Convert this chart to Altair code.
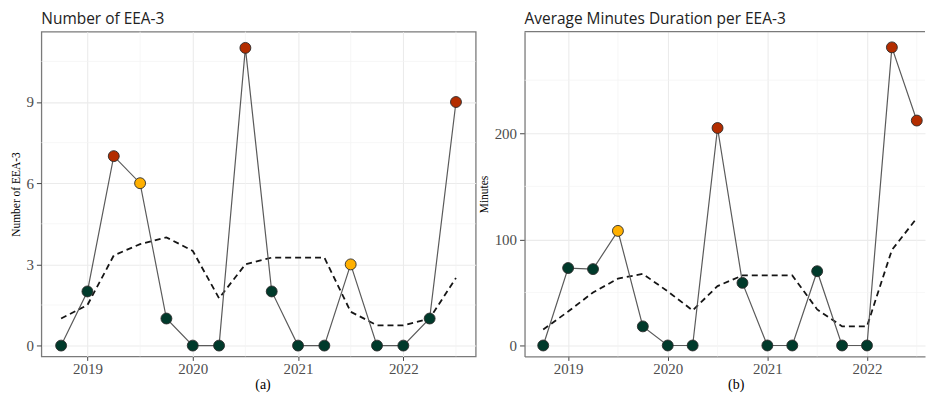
import altair as alt
import pandas as pd

# quarterly time points (decimal years)
quarters = [2018.75, 2019.0, 2019.25, 2019.5, 2019.75, 2020.0, 2020.25, 2020.5,
            2020.75, 2021.0, 2021.25, 2021.5, 2021.75, 2022.0, 2022.25, 2022.5]

# panel (a): number of EEA-3
count_values = [0, 2, 7, 6, 1, 0, 0, 11, 2, 0, 0, 3, 0, 0, 1, 9]
count_level = ["low", "low", "high", "mid", "low", "low", "low", "high",
               "low", "low", "low", "mid", "low", "low", "low", "high"]
count_avg = [1.0, 1.5, 3.33, 3.75, 4.0, 3.5, 1.75, 3.0,
             3.25, 3.25, 3.25, 1.25, 0.75, 0.75, 1.0, 2.5]

# panel (b): average minutes duration
minutes_values = [0, 73, 72, 108, 18, 0, 0, 205, 59, 0, 0, 70, 0, 0, 281, 212]
minutes_level = ["low", "low", "low", "mid", "low", "low", "low", "high",
                 "low", "low", "low", "low", "low", "low", "high", "high"]
minutes_avg = [15, 32, 50, 63, 67.5, 51, 33, 56, 66, 66, 66, 34, 18, 18, 90, 120]

year_ticks = [2019, 2020, 2021, 2022]
year_minor = [2019.5, 2020.5, 2021.5, 2022.5]

count_ticks = [0, 3, 6, 9]
count_minor = [1.5, 4.5, 7.5, 10.5]
minutes_ticks = [0, 100, 200]
minutes_minor = [50, 150, 250]

level_domain = ["low", "mid", "high"]
level_colors = ["#003a2b", "#ffb000", "#b32d00"]

SERIF = "Liberation Serif"
SANS = "Open Sans"
BORDER = "#7a7a7a"


def panel(values, levels, avg, title, ytitle, caption, xdom, ydom, yticks, yminor,
          width, height, caption_x, border_view):
    df = pd.DataFrame({"t": quarters, "v": values, "lvl": levels, "ma": avg})
    xaxis = alt.Axis(values=year_ticks, format="d", title=caption, titleFont=SERIF,
                     titleFontSize=14, titleColor="#000", titleFontWeight="normal",
                     titlePadding=1.5, titleX=caption_x, titleAnchor="start", titleAlign="center",
                     labelFont=SERIF, labelFontSize=15, labelColor="#4d4d4d",
                     labelPadding=1, tickSize=4, tickColor="#444", grid=True,
                     gridColor="#ebebeb", gridWidth=1.1,
                     domain=not border_view, domainColor=BORDER, domainWidth=1.3)
    yaxis = alt.Axis(values=yticks, title=ytitle, titleFont=SERIF, titleFontSize=11.5,
                     titleColor="#000", titleFontWeight="normal", titlePadding=4.5,
                     labelFont=SERIF, labelFontSize=15, labelColor="#4d4d4d",
                     labelPadding=3, tickSize=5, tickColor="#444", grid=True,
                     gridColor="#ebebeb", gridWidth=1.1,
                     domain=not border_view, domainColor=BORDER, domainWidth=1.3)
    xs = alt.Scale(domain=xdom, nice=False, zero=False)
    ys = alt.Scale(domain=ydom, nice=False, zero=False)

    gx = alt.Chart(pd.DataFrame({"g": year_minor})).mark_rule(
        color="#f4f4f4", strokeWidth=0.7).encode(x=alt.X("g:Q", scale=xs, axis=xaxis))
    gy = alt.Chart(pd.DataFrame({"g": yminor})).mark_rule(
        color="#f4f4f4", strokeWidth=0.7).encode(y=alt.Y("g:Q", scale=ys, axis=yaxis))

    base = alt.Chart(df)
    ma = base.mark_line(color="#151515", strokeWidth=1.8, strokeDash=[6, 4]).encode(
        x=alt.X("t:Q", scale=xs, axis=xaxis),
        y=alt.Y("ma:Q", scale=ys, axis=yaxis))
    line = base.mark_line(color="#5a5a5a", strokeWidth=1.2).encode(
        x=alt.X("t:Q", scale=xs, axis=xaxis),
        y=alt.Y("v:Q", scale=ys, axis=yaxis))
    pts = base.mark_point(filled=True, size=120, opacity=1, stroke="#2a2a2a",
                          strokeWidth=0.9).encode(
        x=alt.X("t:Q", scale=xs, axis=xaxis),
        y=alt.Y("v:Q", scale=ys, axis=yaxis),
        fill=alt.Fill("lvl:N", scale=alt.Scale(domain=level_domain, range=level_colors),
                      legend=None))
    layers = [gx, gy, ma, line, pts]
    if border_view:
        view = alt.ViewBackground(stroke=BORDER, strokeWidth=1.3)
    else:
        top = alt.Chart(pd.DataFrame({"g": [0]})).mark_rule(
            color=BORDER, strokeWidth=1.3).encode(y=alt.value(0))
        layers.append(top)
        view = alt.ViewBackground(stroke="transparent")
    return alt.layer(*layers).properties(
        width=width, height=height, view=view,
        title=alt.Title(title, anchor="start", frame="group", font=SANS, fontSize=15.5,
                        fontWeight="normal", color="#222", offset=3.5))


pa = panel(count_values, count_level, count_avg, "Number of EEA-3", "Number of EEA-3", "(a)",
           [2018.5625, 2022.6875], [-0.4, 11.6], count_ticks, count_minor,
           436, 326, 222, True)
pb = panel(minutes_values, minutes_level, minutes_avg, "Average Minutes Duration per EEA-3",
           "Minutes", "(b)", [2018.5625, 2022.5825], [-10.3, 295.8], minutes_ticks,
           minutes_minor, 402, 326, 212, False)

chart = alt.hconcat(pa, pb, spacing=1).properties(
    padding={"left": 1.5, "top": 2, "right": 0, "bottom": 0},
    background="white"
).configure_view(stroke="transparent")

chart.save("out.html", embed_options={"renderer": "svg", "actions": False})
